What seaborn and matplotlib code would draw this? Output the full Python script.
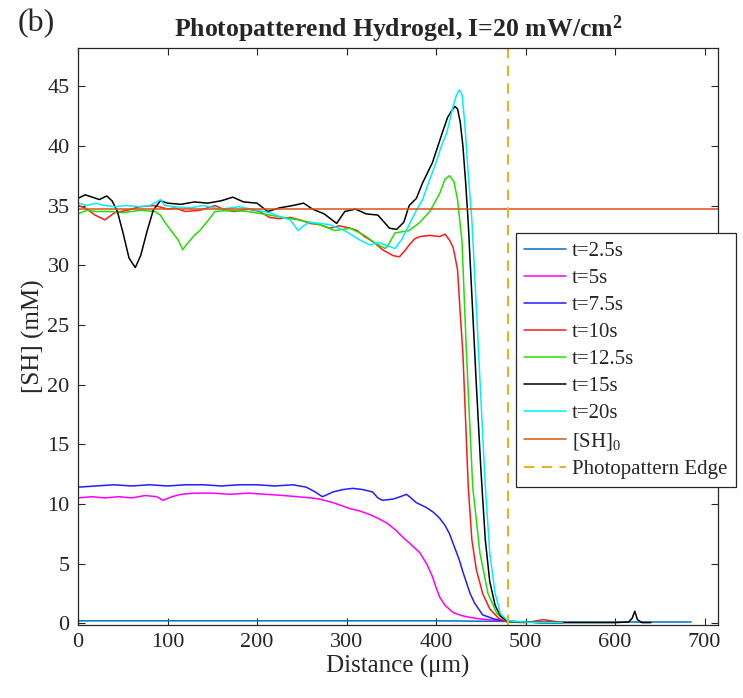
import matplotlib
matplotlib.use("Agg")
import matplotlib.pyplot as plt
import seaborn as sns
import pandas as pd

# ---------------- data ----------------
x_t25 = [0, 100, 200, 300, 400, 480, 500, 600, 685]
y_t25 = [0.2, 0.2, 0.2, 0.2, 0.2, 0.15, 0.1, 0.1, 0.1]

x_t5 = [0, 15, 30, 45, 60, 75, 88, 95, 105, 115, 130, 150, 170, 190, 210, 230, 245,
        260, 270, 285, 304, 315, 326, 335, 345, 355, 363, 372, 382, 390, 396, 400,
        404, 410, 419, 428, 437, 450, 465, 480, 520, 541]
y_t5 = [10.5, 10.6, 10.5, 10.6, 10.5, 10.7, 10.6, 10.3, 10.6, 10.8, 10.9, 10.9, 10.8,
        10.9, 10.8, 10.7, 10.6, 10.5, 10.4, 10.1, 9.6, 9.4, 9.1, 8.8, 8.4, 7.8, 7.2,
        6.6, 5.9, 4.9, 3.9, 3.0, 2.2, 1.5, 0.9, 0.65, 0.5, 0.35, 0.25, 0.15, 0.05, 0.05]

x_t75 = [0, 20, 40, 60, 80, 100, 120, 140, 160, 180, 200, 220, 240, 255, 265, 273, 285,
         296, 307, 318, 329, 335, 340, 352, 360, 367, 372, 378, 389, 397, 404, 410, 415,
         420, 426, 430, 434, 438, 443, 452, 465, 479, 520, 541]
y_t75 = [11.4, 11.5, 11.6, 11.5, 11.6, 11.5, 11.6, 11.6, 11.5, 11.6, 11.6, 11.5, 11.6,
         11.4, 11.0, 10.6, 11.0, 11.2, 11.3, 11.2, 11.0, 10.5, 10.3, 10.4, 10.6, 10.8,
         10.5, 10.1, 9.7, 9.3, 8.8, 8.2, 7.5, 6.5, 5.3, 4.3, 3.4, 2.5, 1.7, 0.7, 0.35,
         0.15, 0.05, 0.05]

x_t10 = [0, 8, 19, 30, 41, 55, 69, 86, 100, 108, 120, 136, 153, 165, 175, 190, 203, 214,
         225, 237, 248, 259, 270, 281, 292, 304, 312, 320, 331, 340, 352, 359, 365, 370,
         376, 382, 393, 404, 410, 415, 419, 421, 424, 427, 430, 433, 436, 440, 445, 452,
         460, 470, 480, 500, 520, 541]
y_t10 = [35.0, 34.8, 34.2, 33.8, 34.4, 34.6, 34.9, 35.0, 34.7, 34.8, 34.5, 34.6, 35.0,
         34.6, 34.5, 34.7, 34.5, 34.0, 33.9, 34.0, 33.8, 33.5, 33.4, 33.1, 33.3, 33.1,
         32.9, 32.4, 31.9, 31.3, 30.8, 30.7, 31.2, 31.7, 32.2, 32.4, 32.5, 32.4, 32.6,
         32.1, 31.5, 30.8, 29.6, 26.0, 22.6, 17.0, 11.4, 7.0, 4.5, 2.5, 1.2, 0.4, 0.1,
         0.05, 0.3, 0.05]

x_t125 = [0, 10, 20, 35, 50, 70, 86, 92, 97, 105, 112, 117, 122, 130, 136, 147, 153, 170,
          190, 214, 230, 246, 258, 270, 287, 304, 320, 331, 343, 346, 354, 362, 370, 382,
          393, 404, 410, 415, 420, 424, 429, 434, 441, 449, 458, 468, 480, 520, 541]
y_t125 = [34.3, 34.6, 34.5, 34.5, 34.4, 34.6, 34.5, 34.2, 33.6, 32.8, 32.1, 31.3, 31.8,
          32.5, 32.9, 33.9, 34.5, 34.6, 34.5, 34.2, 34.0, 33.8, 33.6, 33.4, 32.9, 33.1,
          32.5, 31.9, 31.4, 31.6, 32.7, 32.8, 32.9, 33.6, 34.5, 36.0, 37.2, 37.5, 37.0,
          35.5, 32.0, 22.6, 11.4, 5.9, 2.5, 0.8, 0.1, 0.05, 0.05]

x_t15 = [0, 8, 16, 24, 32, 38, 44, 50, 57, 64, 70, 77, 84, 92, 100, 115, 130, 145, 160,
         173, 185, 200, 212, 225, 240, 252, 262, 275, 289, 298, 310, 322, 335, 348, 356,
         364, 370, 378, 385, 396, 407, 413, 418, 421, 424, 427, 430, 433, 436, 440, 445,
         450, 455, 460, 466, 472, 480, 520, 560, 600, 615, 619, 622, 625, 630, 640]
y_t15 = [35.6, 35.9, 35.7, 35.5, 35.8, 35.4, 34.5, 32.8, 30.6, 29.8, 30.8, 32.8, 34.6,
         35.4, 35.2, 35.1, 35.3, 35.2, 35.4, 35.7, 35.3, 35.2, 34.5, 34.8, 35.0, 35.2,
         34.7, 34.3, 33.5, 34.5, 34.7, 34.3, 34.2, 33.1, 33.0, 33.6, 35.0, 35.6, 36.9,
         38.6, 41.1, 42.4, 43.0, 43.3, 43.1, 42.0, 40.0, 37.0, 33.5, 27.5, 20.0, 13.0,
         7.0, 3.5, 1.5, 0.6, 0.15, 0.05, 0.05, 0.05, 0.1, 0.4, 1.0, 0.3, 0.05, 0.05]

x_t20 = [0, 10, 20, 30, 41, 55, 69, 80, 88, 92, 97, 108, 125, 140, 160, 180, 200, 214,
         228, 237, 246, 252, 259, 270, 281, 298, 315, 326, 336, 343, 354, 362, 370, 378,
         385, 392, 400, 406, 412, 419, 423, 426, 429, 432, 435, 440, 445, 450, 455, 460,
         466, 472, 480, 500, 520, 541]
y_t20 = [35.2, 35.0, 35.2, 35.0, 34.9, 35.0, 34.9, 35.0, 35.3, 35.5, 35.0, 34.9, 34.8,
         35.0, 34.7, 34.9, 34.6, 34.4, 34.0, 33.8, 32.9, 33.3, 33.6, 33.5, 33.4, 32.9,
         32.1, 31.7, 31.9, 31.7, 31.4, 32.2, 33.4, 34.6, 35.5, 37.0, 38.6, 40.0, 41.1,
         43.3, 44.3, 44.7, 44.3, 42.0, 38.6, 33.8, 26.5, 19.0, 11.5, 5.9, 2.5, 0.8, 0.2,
         0.1, 0.05, 0.05]

x_sh0 = [0, 715]
y_sh0 = [34.7, 34.7]

edge_x = 480

labels = ["t=2.5s", "t=5s", "t=7.5s", "t=10s", "t=12.5s", "t=15s", "t=20s", "[SH]$_0$"]
colors = ["#0072BD", "#FF00FF", "#1F1FFF", "#FF1A1A", "#22E000", "#000000", "#00F0FF", "#D95319"]
series_x = [x_t25, x_t5, x_t75, x_t10, x_t125, x_t15, x_t20, x_sh0]
series_y = [y_t25, y_t5, y_t75, y_t10, y_t125, y_t15, y_t20, y_sh0]

# ---------------- style ----------------
sns.set_style("ticks")
plt.rcParams["font.family"] = ["Liberation Serif", "DejaVu Serif"]
plt.rcParams["mathtext.fontset"] = "custom"
plt.rcParams["mathtext.rm"] = "Liberation Serif"
plt.rcParams["mathtext.it"] = "Liberation Serif:italic"
plt.rcParams["mathtext.bf"] = "Liberation Serif:bold"

fig = plt.figure(figsize=(7.43, 6.98), dpi=100)
ax = fig.add_axes([78 / 743, 1 - 625 / 698, 640 / 743, 577 / 698])

for xs, ys, lab, col in zip(series_x, series_y, labels, colors):
    df = pd.DataFrame({"x": xs, "y": ys})
    sns.lineplot(data=df, x="x", y="y", ax=ax, color=col, lw=1.1, label=lab,
                 sort=False, estimator=None)

ax.axvline(edge_x, color="#EDB120", lw=1.5, ls=(0, (5, 3.5)), label="Photopattern Edge")

ax.set_xlim(0, 715)
ax.set_ylim(-0.15, 48.2)
ax.set_xticks(range(0, 701, 100))
ax.set_yticks(range(0, 46, 5))

grey = "#262626"
for s in ax.spines.values():
    s.set_visible(True)
    s.set_color(grey)
    s.set_linewidth(0.9)
ax.tick_params(direction="in", length=5, width=0.8, top=True, right=True,
               labelsize=16, colors=grey, pad=6)

ax.set_xlabel("Distance (\u03bcm)", fontsize=18, color=grey, labelpad=2)
ax.set_ylabel("[SH] (mM)", fontsize=18, color=grey, labelpad=2)
ax.set_title("Photopatterend Hydrogel, I=20 mW/cm$^{\\mathbf{2}}$", fontsize=18.5,
             fontweight="bold", pad=8)
fig.text(18 / 743, 1 - 24 / 698, "(b)", fontsize=23, ha="left", va="center")

leg = ax.legend(loc="upper left", bbox_to_anchor=(516 / 743, 1 - 233 / 698),
                bbox_transform=fig.transFigure, fontsize=15, frameon=True,
                fancybox=False, edgecolor=grey, framealpha=1, borderpad=0.4,
                labelspacing=0.36, handlelength=2.0, handletextpad=0.3,
                borderaxespad=0)
leg.get_frame().set_linewidth(0.9)
for t in leg.get_texts():
    t.set_color(grey)

fig.savefig("out.png", dpi=100)
